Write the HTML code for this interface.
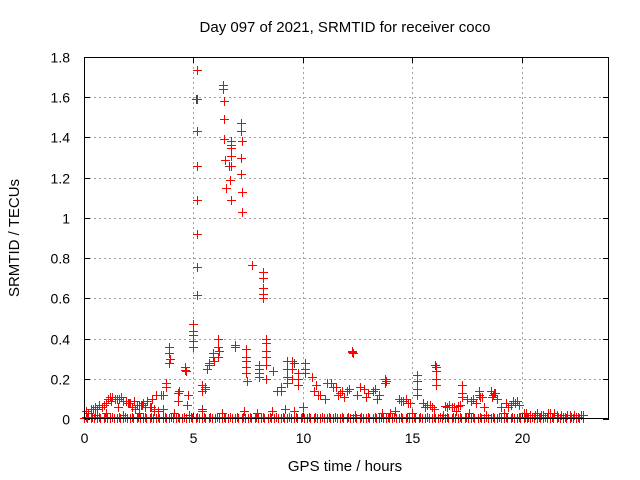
<!DOCTYPE html>
<html><head><meta charset="utf-8"><style>
body{margin:0;background:#fff;}
svg{display:block;font-family:"Liberation Sans",sans-serif;}
</style></head><body>
<svg id="chart" width="640" height="480" viewBox="0 0 640 480">
<rect x="0" y="0" width="640" height="480" fill="#fff"/>
<text x="345" y="32" font-size="15" text-anchor="middle">Day 097 of 2021, SRMTID for receiver coco</text>
<text transform="translate(19,238) rotate(-90)" font-size="15" text-anchor="middle">SRMTID / TECUs</text>
<text x="345" y="471" font-size="15" text-anchor="middle">GPS time / hours</text>
<g id="grid"></g>
<g id="marks"></g>
<rect x="84.5" y="57.5" width="524" height="361" fill="none" stroke="#000" stroke-width="1"/>
</svg>
<script>
const xTicks=[0,5,10,15,20];
const yTicks=[0,0.2,0.4,0.6,0.8,1,1.2,1.4,1.6,1.8];
const yTickLabels=["0","0.2","0.4","0.6","0.8","1","1.2","1.4","1.6","1.8"];
const peakHours=[5.16,5.16,5.16,5.16,5.16,5.16,5.16,5.16,6.36,6.36,6.4,6.4,6.42,6.45,6.5,6.7,6.7,6.72,6.72,6.7,6.68,6.7,7.18,7.18,7.2,7.18,7.18,7.2,7.2,7.7,8.18,8.18,8.2,8.18,8.18,8.3,8.3,8.3,8.3,8.3,8.3,4.96,4.96,4.96,4.98,4.96,3.9,3.9,3.92,3.9,4.62,4.62,4.65,6.13,6.13,6.15,6.13,5.9,5.9,5.92,5.7,5.7,5.6,6.91,6.91,7.41,7.41,7.41,7.41,7.41,7.43,8.0,8.0,8.0,8.0,8.62,9.0,9.0,8.8,9.3,9.3,9.3,9.3,9.5,9.5,9.5,9.8,9.8,9.8,10.1,10.1,10.1,5.55,5.55,5.4,5.4,4.3,4.3,4.32,3.75,3.75,3.5,3.6,4.7,4.75,11.3,11.5,11.7,11.9,12.1,11.6,12.0,12.27,12.27,12.3,13.77,13.77,13.8,13.2,13.4,13.0,12.6,12.8,14.4,14.6,14.9,14.7,15.2,15.2,15.2,15.2,15.5,15.7,15.9,16.0,15.6,16.07,16.07,16.07,16.07,16.5,16.7,16.9,17.1,17.3,17.3,17.3,17.5,17.7,17.9,18.1,18.05,18.05,18.3,18.6,18.7,18.8,18.9,18.65,19.05,19.3,19.5,19.7,19.9,19.6,10.4,10.6,10.8,11.0,11.1,10.5,10.7,0.1,0.3,0.5,0.7,0.9,1.1,1.3,1.5,1.7,1.9,2.1,2.3,2.5,2.7,2.9,3.1,3.3,0.2,0.6,1.0,1.4,1.8,2.2,2.6,3.0,1.2,1.6,2.0,2.4,2.8,3.2,20.1,20.4,20.7,21.0,21.3,21.6,21.9,22.2,22.5,22.8,20.3,20.9,21.5,22.1,22.7,8.6,9.2,9.6,10.0,7.9,7.3,6.3,5.4,4.8,4.1,3.6,3.2,2.5,1.8,1.0,0.5,13.6,14.2,15.0,16.4,17.0,17.6,18.4,19.2,14.0,12.4,0.4,0.8,1.25,1.55,2.05,2.35,2.65,3.05,3.4,11.4,11.8,12.5,12.9,13.3,13.5,14.5,14.8,15.8,16.6,16.8,17.2,17.8,18.2,18.75,19.4,19.8,20.2,20.6,21.2,21.8,22.4];
const peakValues=[1.735,1.59,1.43,1.26,1.09,0.92,0.755,0.615,1.66,1.64,1.58,1.49,1.39,1.29,1.15,1.38,1.36,1.35,1.31,1.26,1.19,1.09,1.47,1.43,1.38,1.30,1.22,1.13,1.03,0.765,0.73,0.70,0.65,0.62,0.60,0.40,0.38,0.34,0.31,0.27,0.20,0.47,0.44,0.42,0.39,0.36,0.36,0.33,0.30,0.28,0.26,0.245,0.24,0.40,0.36,0.34,0.31,0.33,0.31,0.29,0.28,0.27,0.25,0.37,0.36,0.35,0.31,0.29,0.26,0.23,0.19,0.27,0.25,0.23,0.21,0.24,0.16,0.14,0.14,0.29,0.25,0.21,0.18,0.29,0.25,0.20,0.23,0.20,0.17,0.28,0.25,0.23,0.16,0.15,0.17,0.14,0.13,0.09,0.14,0.18,0.16,0.12,0.12,0.07,0.12,0.18,0.16,0.13,0.11,0.15,0.12,0.14,0.335,0.34,0.33,0.20,0.18,0.19,0.14,0.10,0.13,0.16,0.15,0.10,0.09,0.08,0.10,0.22,0.19,0.15,0.12,0.08,0.07,0.06,0.05,0.06,0.26,0.24,0.20,0.17,0.065,0.07,0.06,0.065,0.17,0.13,0.11,0.10,0.09,0.08,0.11,0.14,0.12,0.06,0.14,0.12,0.13,0.10,0.11,0.06,0.08,0.07,0.08,0.07,0.09,0.21,0.17,0.12,0.10,0.18,0.14,0.12,0.04,0.05,0.06,0.07,0.07,0.10,0.11,0.10,0.11,0.09,0.08,0.09,0.07,0.08,0.09,0.10,0.12,0.03,0.05,0.08,0.10,0.09,0.06,0.07,0.06,0.11,0.10,0.08,0.07,0.06,0.05,0.03,0.02,0.03,0.02,0.03,0.02,0.01,0.02,0.01,0.02,0.01,0.02,0.03,0.02,0.02,0.04,0.05,0.04,0.06,0.03,0.04,0.03,0.04,0.02,0.03,0.05,0.04,0.03,0.02,0.03,0.02,0.03,0.04,0.03,0.02,0.04,0.03,0.02,0.03,0.03,0.02,0.05,0.06,0.09,0.06,0.08,0.05,0.07,0.06,0.04,0.16,0.14,0.12,0.11,0.15,0.12,0.09,0.08,0.07,0.06,0.06,0.07,0.10,0.11,0.13,0.06,0.09,0.03,0.02,0.03,0.02,0.02];
const baseHours=[0,0.15,0.3,0.45,0.6,0.75,0.9,1.05,1.2,1.35,1.5,1.65,1.8,1.95,2.1,2.25,2.4,2.55,2.7,2.85,3.0,3.15,3.3,3.45,3.6,3.75,3.9,4.05,4.2,4.35,4.5,4.65,4.8,4.95,5.1,5.25,5.4,5.55,5.7,5.85,6.0,6.15,6.3,6.45,6.6,6.75,6.9,7.05,7.2,7.35,7.5,7.65,7.8,7.95,8.1,8.25,8.4,8.55,8.7,8.85,9.0,9.15,9.3,9.45,9.6,9.75,9.9,10.05,10.2,10.35,10.5,10.65,10.8,10.95,11.1,11.25,11.4,11.55,11.7,11.85,12.0,12.15,12.3,12.45,12.6,12.75,12.9,13.05,13.2,13.35,13.5,13.65,13.8,13.95,14.1,14.25,14.4,14.55,14.7,14.85,15.0,15.15,15.3,15.45,15.6,15.75,15.9,16.05,16.2,16.35,16.5,16.65,16.8,16.95,17.1,17.25,17.4,17.55,17.7,17.85,18.0,18.15,18.3,18.45,18.6,18.75,18.9,19.05,19.2,19.35,19.5,19.65,19.8,19.95,20.1,20.25,20.4,20.55,20.7,20.85,21.0,21.15,21.3,21.45,21.6,21.75,21.9,22.05,22.2,22.35,22.5,22.65,22.8];
const baseValues=[0.005,0.005,0.005,0.005,0.005,0.005,0.005,0.005,0.005,0.005,0.005,0.005,0.005,0.005,0.005,0.005,0.005,0.005,0.005,0.005,0.005,0.005,0.005,0.005,0.005,0.005,0.005,0.005,0.005,0.005,0.005,0.005,0.005,0.005,0.005,0.005,0.005,0.005,0.005,0.005,0.005,0.005,0.005,0.005,0.005,0.005,0.005,0.005,0.005,0.005,0.005,0.005,0.005,0.005,0.005,0.005,0.005,0.005,0.005,0.005,0.005,0.005,0.005,0.005,0.005,0.005,0.005,0.005,0.005,0.005,0.005,0.005,0.005,0.005,0.005,0.005,0.005,0.005,0.005,0.005,0.005,0.005,0.005,0.005,0.005,0.005,0.005,0.005,0.005,0.005,0.005,0.005,0.005,0.005,0.005,0.005,0.005,0.005,0.005,0.005,0.005,0.005,0.005,0.005,0.005,0.005,0.005,0.005,0.005,0.005,0.005,0.005,0.005,0.005,0.005,0.005,0.005,0.005,0.005,0.005,0.005,0.005,0.005,0.005,0.005,0.005,0.005,0.005,0.005,0.005,0.005,0.005,0.005,0.005,0.005,0.005,0.005,0.005,0.005,0.005,0.005,0.005,0.005,0.005,0.005,0.005,0.005,0.005,0.005,0.005,0.005,0.005,0.005];
const baseHours2=[0.08,0.38,0.68,0.98,1.28,1.58,1.88,2.18,2.48,2.78,3.08,3.38,3.68,3.98,4.28,4.58,4.88,5.18,5.48,5.78,6.08,6.38,6.68,6.98,7.28,7.58,7.88,8.18,8.48,8.78,9.08,9.38,9.68,9.98,10.28,10.58,10.88,11.18,11.48,11.78,12.08,12.38,12.68,12.98,13.28,13.58,13.88,14.18,14.48,14.78,15.08,15.38,15.68,15.98,16.28,16.58,16.88,17.18,17.48,17.78,18.08,18.38,18.68,18.98,19.28,19.58,19.88,20.18,20.48,20.78,21.08,21.38,21.68,21.98,22.28,22.58];
const baseValues2=[0.012,0.012,0.012,0.012,0.012,0.012,0.012,0.012,0.012,0.012,0.012,0.012,0.012,0.012,0.012,0.012,0.012,0.012,0.012,0.012,0.012,0.012,0.012,0.012,0.012,0.012,0.012,0.012,0.012,0.012,0.012,0.012,0.012,0.012,0.012,0.012,0.012,0.012,0.012,0.012,0.012,0.012,0.012,0.012,0.012,0.012,0.012,0.012,0.012,0.012,0.012,0.012,0.012,0.012,0.012,0.012,0.012,0.012,0.012,0.012,0.012,0.012,0.012,0.012,0.012,0.012,0.012,0.012,0.012,0.012,0.012,0.012,0.012,0.012,0.012,0.012];
const grayHours=[5.14,6.63,9.6,16.05,5.4];
const grayValues=[1.59,1.26,0.28,0.27,0.05];

const X0=84,X1=609,Y0=419,Y1=57;
function xs(h){return X0+(h-0)/(24-0)*(X1-X0);}
function ys(v){return Y0-(v-0)/(1.8-0)*(Y0-Y1);}
const NS="http://www.w3.org/2000/svg";
const grid=document.getElementById('grid');
const marks=document.getElementById('marks');
yTicks.forEach((t,i)=>{
  const y=Math.round(ys(t))+0.5;
  if(i>0&&i<yTicks.length-1){
    const l=document.createElementNS(NS,'line');
    
    
    l.setAttribute('x1',X0);l.setAttribute('x2',X1);l.setAttribute('y1',y);l.setAttribute('y2',y);
    l.setAttribute('stroke','#a0a0a0');l.setAttribute('stroke-dasharray','2,3');
    grid.appendChild(l);
  }
  const tk=document.createElementNS(NS,'path');
  
  
  tk.setAttribute('d',`M${X0} ${y}h6M${X1} ${y}h-6`);tk.setAttribute('stroke','#000');
  grid.appendChild(tk);
  const tx=document.createElementNS(NS,'text');
  
  
  tx.setAttribute('x',X0-14);tx.setAttribute('y',y+5);tx.setAttribute('text-anchor','end');tx.setAttribute('font-size','14');
  tx.textContent=yTickLabels[i];grid.appendChild(tx);
});
xTicks.forEach(t=>{
  const x=Math.round(xs(t))+0.5;
  if(t>0){
    const l=document.createElementNS(NS,'line');
    
    
    l.setAttribute('x1',x);l.setAttribute('x2',x);l.setAttribute('y1',Y1);l.setAttribute('y2',Y0);
    l.setAttribute('stroke','#a0a0a0');l.setAttribute('stroke-dasharray','2,3');
    grid.appendChild(l);
  }
  const tk=document.createElementNS(NS,'path');
  
  
  tk.setAttribute('d',`M${x} ${Y0}v-6M${x} ${Y1}v6`);tk.setAttribute('stroke','#000');
  grid.appendChild(tk);
  const tx=document.createElementNS(NS,'text');
  
  
  tx.setAttribute('x',x);tx.setAttribute('y',Y0+24);tx.setAttribute('text-anchor','middle');tx.setAttribute('font-size','14');
  tx.textContent=String(t);grid.appendChild(tx);
});
function plus(hs,vs,color,name){
  const g=document.createElementNS(NS,'g');
  
  
  for(let i=0;i<hs.length;i++){
    const x=Math.round(xs(hs[i])),y=Math.round(ys(vs[i]));
    const h=document.createElementNS(NS,'rect');
    
    
    h.setAttribute('x',x-4);h.setAttribute('y',y);h.setAttribute('width',9);h.setAttribute('height',1);h.setAttribute('fill',color);
    const v=document.createElementNS(NS,'rect');
    
    
    v.setAttribute('x',x);v.setAttribute('y',y-4);v.setAttribute('width',1);v.setAttribute('height',9);v.setAttribute('fill',color);
    g.appendChild(h);g.appendChild(v);
  }
  marks.appendChild(g);
}
plus(grayHours,grayValues,'#404040','secondary-points');
plus(baseHours,baseValues,'#ff0000','baseline-points');
plus(baseHours2,baseValues2,'#ff0000','baseline-points-upper');
plus(peakHours,peakValues,'#ff0000','srmtid-points');
</script>
</body></html>
